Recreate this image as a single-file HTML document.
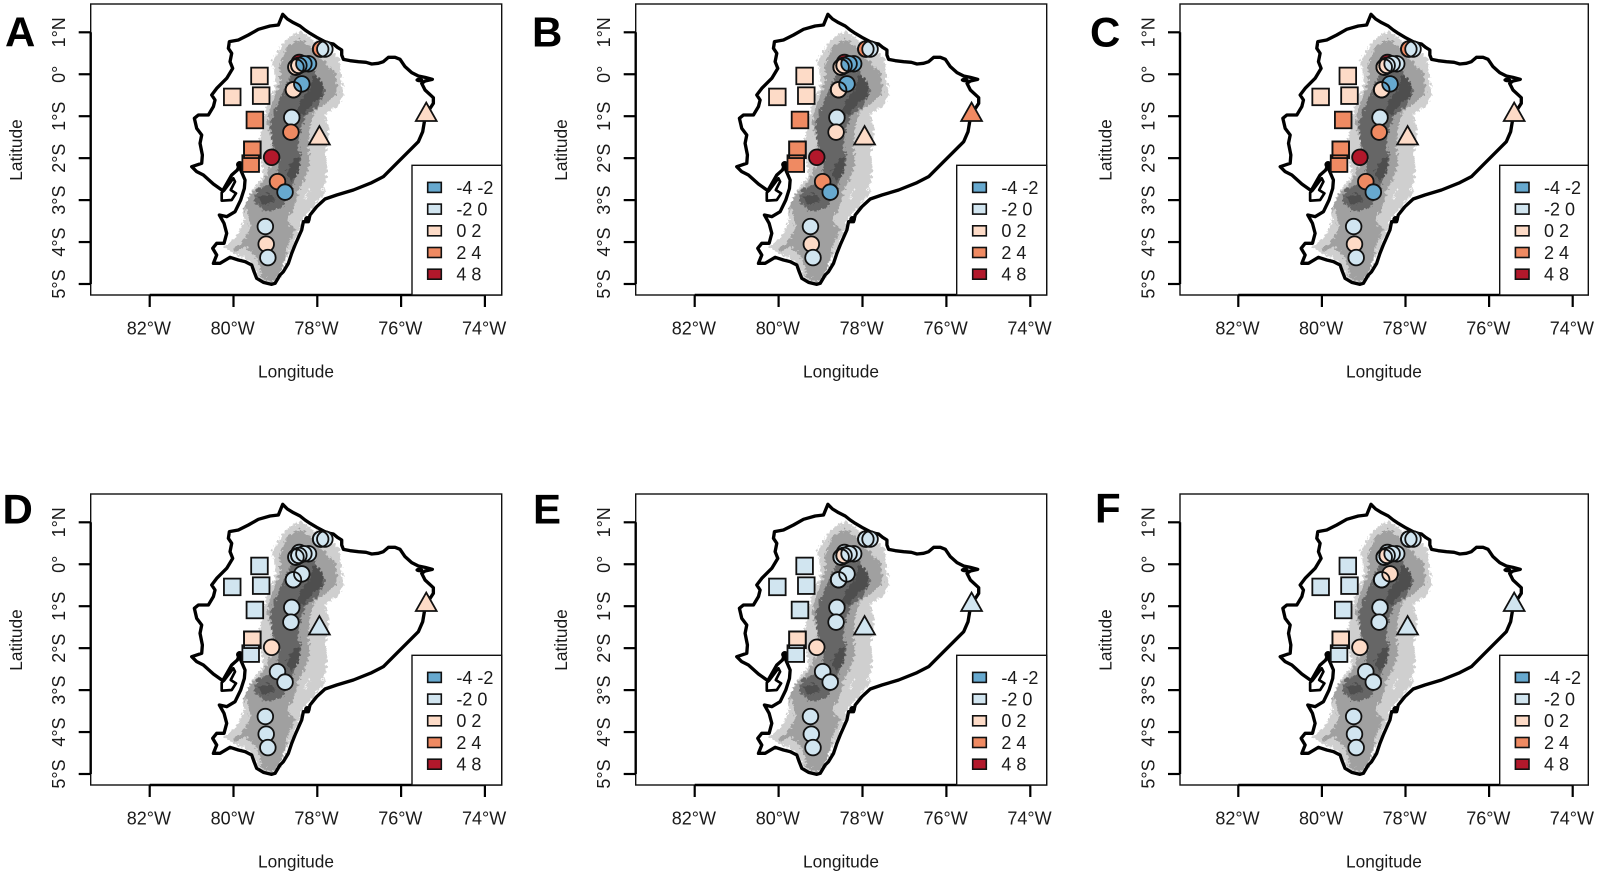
<!DOCTYPE html>
<html lang="en">
<head>
<meta charset="utf-8">
<title>Ecuador station maps, panels A to F</title>
<style>
html,body{margin:0;padding:0;background:#fff;width:1600px;height:876px;overflow:hidden}
svg{display:block}
text{font-family:"Liberation Sans",Arial,sans-serif;fill:#1a1a1a}
</style>
</head>
<body>
<svg id="figure" xmlns="http://www.w3.org/2000/svg" width="1600" height="876" viewBox="0 0 1600 876">
  <defs>
    <filter id="rough" filterUnits="userSpaceOnUse" x="500" y="0" width="700" height="950" color-interpolation-filters="sRGB">
      <feTurbulence type="fractalNoise" baseFrequency="0.11" numOctaves="4" seed="4"/>
      <feDisplacementMap in="SourceGraphic" scale="24" xChannelSelector="R" yChannelSelector="G"/>
    </filter>
    <g id="basemap">
      <g filter="url(#rough)">
        <path fill="#cfcfcf" d="M885,100L900,92L935,118L975,133L1020,178L1022,220L1032,280L1017,317L975,342L987,380L977,470L982,510L972,582L940,622L910,652L892,710L867,760L842,820L820,854L785,842L763,805L748,782L695,757L670,740L712,708L732,660L732,620L757,568L790,528L778,430L790,350L805,308L825,258L825,220L815,185L850,128Z"/>
        <path fill="#a0a0a0" d="M862,138L900,118L930,138L975,188L1007,220L1012,280L977,312L945,332L930,380L925,440L930,490L915,530L895,570L880,630L860,660L885,690L865,730L855,780L838,830L815,847L783,832L778,790L752,752L722,730L752,690L747,650L732,620L757,578L795,538L815,490L815,420L800,370L815,310L840,250L840,190Z"/>
        <path fill="#a0a0a0" d="M700,745L740,725L745,735L705,757Z"/>
        <path fill="#666" d="M885,195L945,215L975,275L955,318L920,343L900,390L895,440L905,480L885,530L875,580L845,624L795,634L760,602L772,567L802,556L830,526L835,480L815,430L810,380L828,318L855,265Z"/>
        <path fill="#4e4e4e" d="M945,222L968,250L968,288L942,308L927,323L905,348L888,343L903,300L928,268ZM880,478L898,472L893,520L872,547L858,520ZM772,590L810,580L828,600L790,617Z"/>
        <path fill="none" stroke="#fff" stroke-width="3" d="M925,570L915,600M975,550L965,575M965,590L950,610"/>
      </g>
      <path fill="none" stroke="#000" stroke-width="10" stroke-linejoin="round" d="M848,43L862,57L880,68L900,78L915,90L930,100L950,112L975,125L990,130L1000,132L1012,142L1025,150L1025,165L1030,178L1050,182L1075,185L1098,187L1115,192L1135,190L1150,185L1165,172L1185,172L1200,178L1215,200L1235,218L1255,228L1275,232L1297,238L1275,243L1265,250L1275,270L1300,293L1300,310L1287,330L1273,365L1268,395L1255,425L1225,455L1190,490L1150,530L1115,548L1060,570L1010,585L975,597L950,620L930,645L925,665L910,665L905,690L885,735L875,760L865,790L850,815L840,825L825,850L815,853L790,847L770,835L762,815L755,795L735,785L715,780L690,772L660,790L640,790L650,765L638,745L650,730L672,730L680,700L672,670L658,645L680,650L705,635L722,600L733,565L735,540L722,510L720,490L712,510L695,525L668,572L640,552L610,525L590,515L575,500L605,490L607,465L600,430L605,405L590,385L583,355L595,345L625,345L640,320L645,300L635,285L650,265L680,235L698,205L690,185L695,160L685,145L688,125L715,120L745,105L775,88L810,78L835,75Z"/>
      <path fill="none" stroke="#000" stroke-width="8" stroke-linejoin="round" d="M672,572L700,535L705,545L692,570L708,580L695,600L665,602L665,578Z"/>
      <ellipse cx="1258" cy="240" rx="12" ry="7" fill="#000"/>
      <circle cx="922" cy="658" r="10" fill="#000"/>
      <circle cx="719" cy="494" r="11" fill="#000"/>
    </g>
  </defs>
</svg>
<script>
// Chart data
const panelLetters = ["A", "B", "C", "D", "E", "F"];
const lonTicks = [82, 80, 78, 76, 74];
const lonTickLabels = ["82°W", "80°W", "78°W", "76°W", "74°W"];
const latTicks = [1, 0, -1, -2, -3, -4, -5];
const latTickLabels = ["1°N", "0°", "1°S", "2°S", "3°S", "4°S", "5°S"];
const legendLabels = ["-4 -2", "-2 0", "0 2", "2 4", "4 8"];
const binColors = ["#67A9CF", "#D1E5F0", "#FDDBC7", "#EF8A62", "#B2182B"];

// Station locations and marker type, in drawing order
const stationLon = [79.38, 80.03, 79.34, 79.49, 79.55, 79.59, 79.09, 78.61, 78.63, 78.95, 78.77, 79.24, 79.22, 79.18, 77.92, 77.82, 78.43, 78.51, 78.44, 78.21, 78.32, 78.57, 78.37, 77.95, 75.40];
const stationLat = [-0.04, -0.54, -0.51, -1.09, -1.80, -2.13, -1.98, -1.03, -1.38, -2.56, -2.81, -3.63, -4.05, -4.37, 0.60, 0.60, 0.28, 0.17, 0.21, 0.25, 0.25, -0.37, -0.23, -1.45, -0.89];
const stationShape = ["square", "square", "square", "square", "square", "square", "circle", "circle", "circle", "circle", "circle", "circle", "circle", "circle", "circle", "circle", "circle", "circle", "circle", "circle", "circle", "circle", "circle", "triangle", "triangle"];

// Colour-bin index of each station for each panel
const binsA = [2, 2, 2, 3, 3, 3, 4, 1, 3, 3, 0, 1, 2, 1, 3, 1, 4, 2, 2, 0, 0, 2, 0, 2, 2];
const binsB = [2, 2, 2, 3, 3, 3, 4, 1, 2, 3, 0, 1, 2, 1, 3, 1, 4, 2, 2, 0, 0, 2, 0, 2, 3];
const binsC = [2, 2, 2, 3, 3, 3, 4, 1, 3, 3, 0, 1, 2, 1, 3, 1, 4, 2, 2, 1, 1, 2, 0, 2, 2];
const binsD = [1, 1, 1, 1, 2, 1, 2, 1, 1, 1, 1, 1, 1, 1, 1, 1, 1, 1, 1, 1, 1, 1, 1, 1, 2];
const binsE = [1, 1, 1, 1, 2, 1, 2, 1, 1, 1, 1, 1, 1, 1, 1, 1, 1, 1, 2, 1, 1, 1, 1, 1, 1];
const binsF = [1, 1, 1, 1, 2, 1, 2, 1, 1, 1, 1, 1, 1, 1, 1, 1, 1, 1, 2, 1, 1, 1, 2, 1, 1];

// Unfilled outline markers drawn over the stations
const ringLon = [79.55, 77.92, 78.51, 78.44, 78.57];
const ringLat = [-1.80, 0.60, 0.17, 0.21, -0.37];
const ringShape = ["square", "circle", "circle", "circle", "circle"];

// Drawing code
const NS = "http://www.w3.org/2000/svg";
const figure = document.getElementById("figure");
const panelBins = [binsA, binsB, binsC, binsD, binsE, binsF];
const LAT_SCALE = 41.95;
const layout = [
  {dx: 0,    dy: 0,   k: 41.9,  left: 90.7,   right: 501.7,  legendLeft: 412,    keyX: 427.3,  textX: 456.7,  letterX: 5,    letterY: 46.7},
  {dx: 545,  dy: 0,   k: 41.95, left: 635.7,  right: 1046.7, legendLeft: 956.7,  keyX: 972.3,  textX: 1001.7, letterX: 532,  letterY: 46.7},
  {dx: 1088.6, dy: 0, k: 41.8,  left: 1180,   right: 1588.3, legendLeft: 1499.7, keyX: 1515,   textX: 1544.3, letterX: 1090, letterY: 46.7},
  {dx: 0,    dy: 490, k: 41.9,  left: 90.7,   right: 501.7,  legendLeft: 412,    keyX: 427.3,  textX: 456.7,  letterX: 2.5,  letterY: 523.3},
  {dx: 545,  dy: 490, k: 41.95, left: 635.7,  right: 1046.7, legendLeft: 956.7,  keyX: 972.3,  textX: 1001.7, letterX: 533,  letterY: 523.3},
  {dx: 1088.6, dy: 490, k: 41.8, left: 1180,  right: 1588.3, legendLeft: 1499.7, keyX: 1515,   textX: 1544.3, letterX: 1095, letterY: 522.6}
];

function make(tag, attrs, parent, content) {
  const el = document.createElementNS(NS, tag);
  for (const key in attrs) el.setAttribute(key, attrs[key]);
  if (content !== undefined) el.textContent = content;
  parent.appendChild(el);
  return el;
}

function drawMarker(shape, cx, cy, fill, parent) {
  const style = {fill: fill, stroke: "#111", "stroke-width": 1.8};
  if (shape === "circle") {
    return make("circle", Object.assign({cx: cx, cy: cy, r: 7.8}, style), parent);
  }
  if (shape === "square") {
    return make("rect", Object.assign({x: cx - 8.3, y: cy - 8.3, width: 16.6, height: 16.6}, style), parent);
  }
  const pts = [[cx, cy - 9], [cx + 10.4, cy + 9.4], [cx - 10.4, cy + 9.4]].map(p => p.join(",")).join(" ");
  return make("polygon", Object.assign({points: pts}, style), parent);
}

panelLetters.forEach((letter, p) => {
  const L = layout[p];
  const bins = panelBins[p];
  const lonToX = lon => 149.7 + L.dx + (82 - lon) * L.k;
  const latToY = lat => 32.3 + L.dy + (1 - lat) * LAT_SCALE;
  const top = 4 + L.dy, bottom = 295 + L.dy;
  const sx = L.k / 41.9;

  const g = make("g", {}, figure);
  
  

  const label = make("text", {x: L.letterX, y: L.letterY, "font-size": 42, "font-weight": "bold", style: "fill:#000"}, g, letter);
  
  

  const map = make("use", {href: "#basemap", transform: "translate(" + (149.7 + L.dx - 449 * sx / 3) + " " + (L.dy) + ") scale(" + (sx / 3) + " " + (1 / 3) + ")"}, g);
  
  

  const frame = make("rect", {x: L.left, y: top, width: L.right - L.left, height: bottom - top, fill: "none", stroke: "#111", "stroke-width": 1.4}, g);
  
  

  // stations
  stationLon.forEach((lon, i) => {
    const m = drawMarker(stationShape[i], lonToX(lon), latToY(stationLat[i]), binColors[bins[i]], g);
    
    
  });
  ringLon.forEach((lon, i) => {
    const m = drawMarker(ringShape[i], lonToX(lon), latToY(ringLat[i]), "none", g);
    
    
  });

  // x axis
  const xAxis = make("line", {x1: lonToX(lonTicks[0]), x2: lonToX(lonTicks[lonTicks.length - 1]), y1: bottom, y2: bottom, stroke: "#000", "stroke-width": 2.4}, g);
  
  
  lonTicks.forEach((lon, i) => {
    const x = lonToX(lon);
    const t = make("line", {x1: x, x2: x, y1: bottom, y2: bottom + 12, stroke: "#000", "stroke-width": 2.2}, g);
    
    
    const tl = make("text", {x: x - 0.8, y: bottom + 39.5, "font-size": 18, "text-anchor": "middle"}, g, lonTickLabels[i]);
    
    
  });

  // y axis
  const yAxis = make("line", {x1: L.left, x2: L.left, y1: latToY(latTicks[0]), y2: latToY(latTicks[latTicks.length - 1]), stroke: "#000", "stroke-width": 2.4}, g);
  
  
  latTicks.forEach((lat, i) => {
    const y = latToY(lat);
    const t = make("line", {x1: L.left - 12, x2: L.left, y1: y, y2: y, stroke: "#000", "stroke-width": 2.2}, g);
    
    
    const bx = L.left - 25.5;
    const tl = make("text", {x: bx, y: y, "font-size": 18, "text-anchor": "middle", transform: "rotate(-90 " + bx + " " + y + ")"}, g, latTickLabels[i]);
    
    
  });

  // axis titles
  const midX = (L.left + L.right) / 2 - 0.2;
  const xt = make("text", {x: midX, y: 377.4 + L.dy, "font-size": 17.3, "text-anchor": "middle"}, g, "Longitude");
  
  
  const yBase = L.left - 68.5;
  const yMid = 150 + L.dy;
  const yt = make("text", {x: yBase, y: yMid, "font-size": 17.3, "text-anchor": "middle", transform: "rotate(-90 " + yBase + " " + yMid + ")"}, g, "Latitude");
  
  

  // legend
  const legend = make("g", {}, g);
  
  
  const box = make("rect", {x: L.legendLeft, y: 165.3 + L.dy, width: L.right - L.legendLeft, height: bottom - 165.3 - L.dy, fill: "#fff", stroke: "#111", "stroke-width": 1.4}, legend);
  
  
  legendLabels.forEach((text, i) => {
    const cy = 187.4 + L.dy + i * 21.7;
    const key = make("rect", {x: L.keyX + 0.4, y: cy - 5, width: 13.6, height: 10, fill: binColors[i], stroke: "#111", "stroke-width": 1.6}, legend);
    
    
    const lab = make("text", {x: L.textX - 0.3, y: cy + 6.4, "font-size": 18}, legend, text);
    
    
  });
});
</script>
</body>
</html>
